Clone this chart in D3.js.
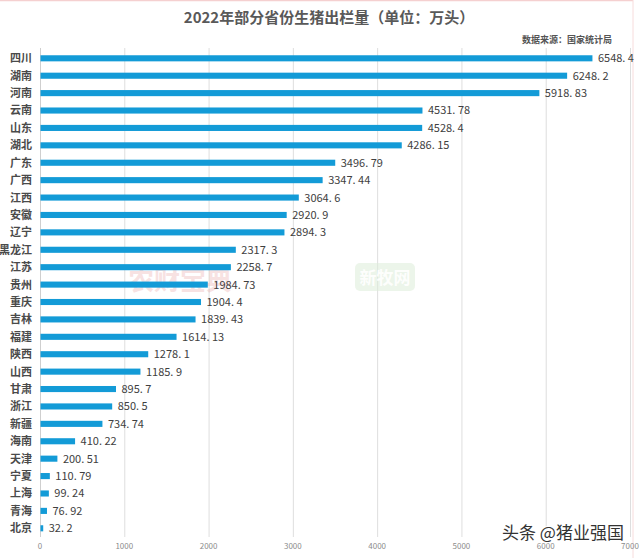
<!DOCTYPE html>
<html><head><meta charset="utf-8">
<script src="https://cdn.jsdelivr.net/npm/d3@7"></script>
<style>body{margin:0;background:#fff}svg{display:block}</style>
</head><body>
<script>
const provinces = ["四川","湖南","河南","云南","山东","湖北","广东","广西","江西","安徽","辽宁","黑龙江","江苏","贵州","重庆","吉林","福建","陕西","山西","甘肃","浙江","新疆","海南","天津","宁夏","上海","青海","北京"];
const values = [6548.4,6248.2,5918.83,4531.78,4528.4,4286.15,3496.79,3347.44,3064.6,2920.9,2894.3,2317.3,2258.7,1984.73,1904.4,1839.43,1614.13,1278.1,1185.9,895.7,850.5,734.74,410.22,200.51,110.79,99.24,76.92,32.2];
const xTicks = [0,1000,2000,3000,4000,5000,6000,7000];
const title = "2022年部分省份生猪出栏量（单位：万头）";
const source = "数据来源：国家统计局";

const W = 640, H = 558;
const font = "'Noto Sans CJK SC','Noto Sans',sans-serif";
const svg = d3.select("body").append("svg").attr("width", W).attr("height", H);

svg.append("rect").attr("width", W).attr("height", H).attr("fill", "#fff");
// faint pink frame
svg.append("line").attr("x1",0).attr("x2",633).attr("y1",0.5).attr("y2",0.5).attr("stroke","#f5d0d0").attr("stroke-width",1.5);
svg.append("line").attr("x1",633).attr("x2",633).attr("y1",0).attr("y2",H).attr("stroke","#f7dcdc").attr("stroke-width",1);

const x = d3.scaleLinear().domain([0,7000]).range([40,630]);
const y = d3.scaleBand().domain(provinces).range([49.6,537]).paddingInner(0.65).paddingOuter(0.325);

// gridlines
svg.append("g").selectAll("line").data(xTicks).join("line")
  .attr("x1", d=>x(d)+0.5).attr("x2", d=>x(d)+0.5)
  .attr("y1", 48).attr("y2", 537)
  .attr("stroke", d=> d===0 ? "#cfcfcf" : "#dedede").attr("stroke-width",1);

// x tick labels
svg.append("g").selectAll("text").data(xTicks).join("text")
  .attr("x", d=>x(d)).attr("y", 549)
  .attr("text-anchor","middle").attr("font-family",font).attr("font-size",8)
  .attr("fill","#8c8c8c").text(d=>d);

// watermarks
svg.append("text").attr("x",180).attr("y",290).attr("text-anchor","middle")
  .attr("font-family",font).attr("font-weight","bold").attr("font-size",26)
  .attr("fill","#e8a0a0").attr("opacity",0.3).text("农财宝典");
svg.append("rect").attr("x",355).attr("y",263).attr("width",60).attr("height",28).attr("rx",5)
  .attr("fill","#dcedd9").attr("opacity",0.55);
svg.append("text").attr("x",385).attr("y",284).attr("text-anchor","middle")
  .attr("font-family",font).attr("font-weight","bold").attr("font-size",17)
  .attr("fill","#ffffff").attr("opacity",0.9).text("新牧网");

// bars
const data = provinces.map((p,i)=>({p, v: values[i]}));
svg.append("g").selectAll("rect").data(data).join("rect")
  .attr("x", x(0)+0.5).attr("y", d=>y(d.p))
  .attr("width", d=>x(d.v)-x(0)).attr("height", y.bandwidth())
  .attr("fill","#139bd7");

// value labels
svg.append("g").selectAll("text").data(data).join("text")
  .attr("x", d=>x(d.v)+6).attr("y", d=>y(d.p)+y.bandwidth()/2)
  .attr("dy","0.36em").attr("font-family",font).attr("font-size",11)
  .attr("fill","#404040").text(d=>String(d.v).replace(".", ". "));

// category labels
svg.append("g").selectAll("text").data(provinces).join("text")
  .attr("x", 32).attr("y", d=>y(d)+y.bandwidth()/2)
  .attr("dy","0.36em").attr("text-anchor","end")
  .attr("font-family",font).attr("font-weight","bold").attr("font-size",11)
  .attr("fill","#4a4a4a").text(d=>d);

// title & source
svg.append("text").attr("x",329).attr("y",23).attr("text-anchor","middle")
  .attr("font-family",font).attr("font-weight","bold").attr("font-size",15)
  .attr("fill","#595959").text(title);
svg.append("text").attr("x",612).attr("y",43).attr("text-anchor","end")
  .attr("font-family",font).attr("font-weight","bold").attr("font-size",9)
  .attr("fill","#555").text(source);

// bottom-right watermark
svg.append("text").attr("x",563).attr("y",539).attr("text-anchor","middle")
  .attr("font-family",font).attr("font-size",17)
  .attr("fill","#333").attr("stroke","#fff").attr("stroke-width",2.5).attr("paint-order","stroke")
  .text("头条 @猪业强国");
</script>
</body></html>
